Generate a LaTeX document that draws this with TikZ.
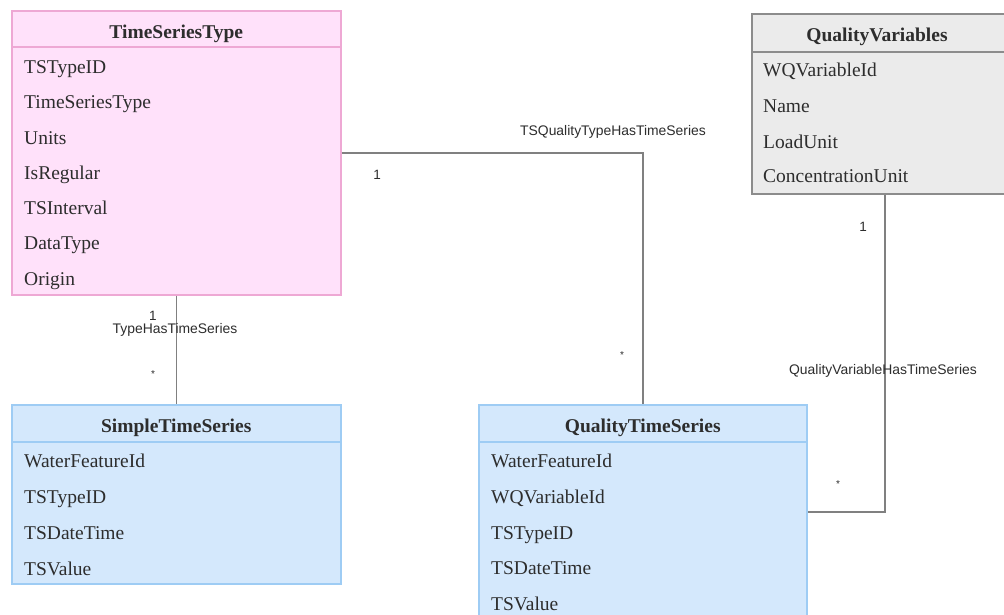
\documentclass[tikz,border=0pt]{standalone}
\usepackage{fontspec}
\setmainfont{Liberation Serif}
\newfontfamily\lblfont{Liberation Sans}
\definecolor{pinkfill}{RGB}{255,225,250}
\definecolor{pinkdraw}{RGB}{238,168,212}
\definecolor{bluefill}{RGB}{212,232,252}
\definecolor{bluedraw}{RGB}{158,204,244}
\definecolor{grayfill}{RGB}{235,235,235}
\definecolor{graydraw}{RGB}{140,140,140}
\definecolor{connc}{RGB}{128,128,128}
\definecolor{txt}{RGB}{45,45,45}
\tikzset{
  entity/.style={rectangle, draw, line width=1.5pt, anchor=north west, inner sep=0pt},
  pinkbox/.style={entity, fill=pinkfill, draw=pinkdraw},
  bluebox/.style={entity, fill=bluefill, draw=bluedraw},
  graybox/.style={entity, fill=grayfill, draw=graydraw},
  hdr/.style={anchor=base, inner sep=0pt, text=txt, font=\fontsize{19.5}{22}\selectfont\bfseries},
  attr/.style={anchor=base west, inner sep=0pt, text=txt, font=\fontsize{19.5}{22}\selectfont},
  lbl/.style={anchor=center, inner sep=0pt, text=txt, font=\lblfont\fontsize{13.9}{15}\selectfont},
  mult/.style={anchor=center, inner sep=0pt, text=txt, font=\lblfont\fontsize{13.5}{15}\selectfont},
  star/.style={anchor=center, inner sep=0pt, text=txt, font=\lblfont\fontsize{10}{11}\selectfont},
  conn/.style={draw=connc, line width=1.5pt},
}
\begin{document}
\begin{tikzpicture}[x=1pt,y=-1pt]
\useasboundingbox (0,0) rectangle (1004,614);
\clip (0,0) rectangle (1004,614);
\fill[white] (0,0) rectangle (1004,614);

% entity boxes
\node[pinkbox, minimum width=329pt, minimum height=284pt] (tst) at (11,10) {};
\node[bluebox, minimum width=329pt, minimum height=179pt] (sts) at (11,404) {};
\node[bluebox, minimum width=328pt, minimum height=214pt] (qts) at (478,404) {};
\node[graybox, minimum width=266pt, minimum height=180pt] (qv) at (751,13) {};

% connectors
\draw[conn] (tst.east) -| (qts.north);
\draw[conn] (tst.south) -- (sts.north);
\draw[conn] (qv.south) |- (qts.east);

% TimeSeriesType
\draw[draw=pinkdraw, line width=1.5pt] (tst.west |- 0,47) -- (tst.east |- 0,47);
\node[hdr] (tsth) at (tst.north |- 0,38) {TimeSeriesType};
\node[attr] (tst1) at (24,73.5) {TSTypeID};
\node[attr] (tst2) at (24,108.7) {TimeSeriesType};
\node[attr] (tst3) at (24,144) {Units};
\node[attr] (tst4) at (24,179.2) {IsRegular};
\node[attr] (tst5) at (24,214.5) {TSInterval};
\node[attr] (tst6) at (24,249.7) {DataType};
\node[attr] (tst7) at (24,285) {Origin};

% SimpleTimeSeries
\draw[draw=bluedraw, line width=1.5pt] (sts.west |- 0,442) -- (sts.east |- 0,442);
\node[hdr] (stsh) at (sts.north |- 0,432) {SimpleTimeSeries};
\node[attr] (sts1) at (24,467.7) {WaterFeatureId};
\node[attr] (sts2) at (24,503.3) {TSTypeID};
\node[attr] (sts3) at (24,539) {TSDateTime};
\node[attr] (sts4) at (24,575) {TSValue};

% QualityTimeSeries
\draw[draw=bluedraw, line width=1.5pt] (qts.west |- 0,442) -- (qts.east |- 0,442);
\node[hdr] (qtsh) at (qts.north |- 0,432.7) {QualityTimeSeries};
\node[attr] (qts1) at (491,467.3) {WaterFeatureId};
\node[attr] (qts2) at (491,503) {WQVariableId};
\node[attr] (qts3) at (491,539) {TSTypeID};
\node[attr] (qts4) at (491,574.5) {TSDateTime};
\node[attr] (qts5) at (491,610) {TSValue};

% QualityVariables
\draw[draw=graydraw, line width=1.5pt] (qv.west |- 0,52) -- (qv.east |- 0,52);
\node[hdr] (qvh) at (877,41) {QualityVariables};
\node[attr] (qv1) at (763,76.7) {WQVariableId};
\node[attr] (qv2) at (763,112.5) {Name};
\node[attr] (qv3) at (763,148) {LoadUnit};
\node[attr] (qv4) at (763,182.7) {ConcentrationUnit};

% labels
\node[lbl] (l1) at (613,132) {TSQualityTypeHasTimeSeries};
\node[mult] (m1a) at (377,175) {1};
\node[star] (m1b) at (622,355) {*};
\node[mult] (m2a) at (153,316) {1};
\node[lbl] (l2) at (175,329.5) {TypeHasTimeSeries};
\node[star] (m2b) at (153,374) {*};
\node[lbl] (l3) at (883,371) {QualityVariableHasTimeSeries};
\node[mult] (m3a) at (863,227) {1};
\node[star] (m3b) at (838,484) {*};
\end{tikzpicture}
\end{document}
